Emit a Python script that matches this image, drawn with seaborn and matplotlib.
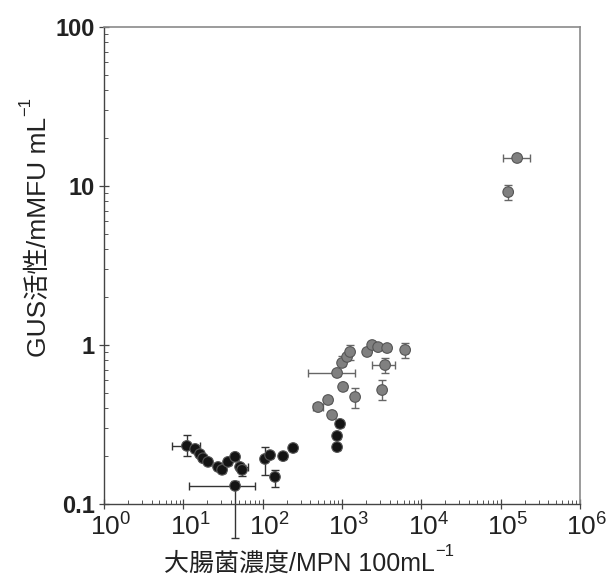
import numpy as np
import pandas as pd
import matplotlib
matplotlib.use("Agg")
import matplotlib.pyplot as plt
import matplotlib.transforms as mtransforms
import seaborn as sns
from matplotlib.ticker import LogLocator, FixedLocator, FixedFormatter, NullFormatter

sns.set_theme(style="white")
plt.rcParams["font.family"] = ["Liberation Sans", "Noto Sans CJK JP", "DejaVu Sans"]
plt.rcParams["mathtext.fontset"] = "custom"
plt.rcParams["mathtext.rm"] = "Liberation Sans"
plt.rcParams["mathtext.it"] = "Liberation Sans:italic"

# E. coli concentration (MPN / 100 mL) and GUS activity (mMFU / mL)
coli_black = [11.1, 14.1, 16.2, 17.7, 20.5, 27.4, 30.8, 36.6, 44.9, 51.9, 55.0,
              44.9, 107, 124, 143, 181, 242, 867, 867, 946]
gus_black = [0.232, 0.222, 0.206, 0.194, 0.184, 0.171, 0.164, 0.184, 0.198, 0.171, 0.164,
             0.130, 0.192, 0.203, 0.148, 0.200, 0.225, 0.228, 0.268, 0.319]
coli_black_lo = [7.2, 13.0, 15.2, 16.8, 19.5, 26.0, 29.5, 35.0, 43.0, 49.5, 52.0,
                 11.8, 101, 118, 137, 173, 232, 840, 840, 915]
coli_black_hi = [16.0, 15.2, 17.2, 18.8, 21.5, 28.8, 32.2, 38.2, 46.8, 65.0, 58.0,
                 80.0, 113, 130, 149, 189, 252, 894, 894, 977]
gus_black_lo = [0.200, 0.212, 0.198, 0.186, 0.177, 0.164, 0.157, 0.176, 0.190, 0.164, 0.150,
                0.061, 0.152, 0.194, 0.128, 0.192, 0.216, 0.218, 0.257, 0.306]
gus_black_hi = [0.270, 0.232, 0.215, 0.202, 0.192, 0.179, 0.172, 0.192, 0.207, 0.179, 0.176,
                0.140, 0.228, 0.212, 0.164, 0.208, 0.234, 0.238, 0.279, 0.332]

coli_gray = [500, 668, 750, 1032, 1463, 867, 1002, 1159, 1265, 2074, 2399, 2853,
             3706, 3494, 3206, 6253, 161400, 124400]
gus_gray = [0.407, 0.451, 0.363, 0.545, 0.471, 0.667, 0.771, 0.841, 0.904, 0.904, 1.00,
            0.970, 0.957, 0.748, 0.521, 0.931, 15.0, 9.16]
coli_gray_lo = [432, 640, 720, 990, 1400, 373, 960, 1110, 1210, 1990, 2300, 2740,
                3560, 2400, 3080, 5700, 107000, 118000]
coli_gray_hi = [578, 697, 782, 1075, 1525, 1463, 1045, 1210, 1320, 2160, 2500, 2970,
                3860, 4677, 3340, 6850, 235000, 131000]
gus_gray_lo = [0.390, 0.432, 0.348, 0.522, 0.402, 0.640, 0.740, 0.806, 0.810, 0.867, 0.958,
               0.930, 0.917, 0.670, 0.450, 0.830, 14.3, 8.17]
gus_gray_hi = [0.425, 0.471, 0.379, 0.569, 0.537, 0.696, 0.850, 0.878, 1.00, 0.944, 1.045,
               1.012, 1.000, 0.830, 0.600, 1.030, 15.7, 10.1]

black_col = "#141414"
gray_col = "#808080"

df = pd.DataFrame({
    "coli": coli_black + coli_gray,
    "gus": gus_black + gus_gray,
    "grp": ["black"] * len(coli_black) + ["gray"] * len(coli_gray),
})

W, H = 611, 588
fig = plt.figure(figsize=(W / 100, H / 100), dpi=100)
ax = fig.add_axes([104 / W, 1 - 504 / H, 476 / W, 477 / H])
ax.set_xscale("log")
ax.set_yscale("log")

def draw_errors(xs, ys, xlo, xhi, ylo, yhi, color):
    xs = np.array(xs); ys = np.array(ys)
    xerr = [xs - np.array(xlo), np.array(xhi) - xs]
    yerr = [ys - np.array(ylo), np.array(yhi) - ys]
    ax.errorbar(xs, ys, xerr=xerr, yerr=yerr, fmt="none", ecolor=color,
                elinewidth=1.0, capsize=3, capthick=1.0, clip_on=False, zorder=2)

draw_errors(coli_black, gus_black, coli_black_lo, coli_black_hi, gus_black_lo, gus_black_hi, "#333333")
draw_errors(coli_gray, gus_gray, coli_gray_lo, coli_gray_hi, gus_gray_lo, gus_gray_hi, "#666666")

sns.scatterplot(data=df, x="coli", y="gus", hue="grp",
                palette={"black": black_col, "gray": gray_col},
                s=58, edgecolor="#555555", linewidth=0.8, legend=False, ax=ax, zorder=3)

ax.set_xlim(1, 1e6)
ax.set_ylim(0.1, 100)

ax.xaxis.set_major_locator(FixedLocator([1e0, 1e1, 1e2, 1e3, 1e4, 1e5, 1e6]))
ax.xaxis.set_major_formatter(FixedFormatter(["$10^{%d}$" % k for k in range(7)]))
ax.xaxis.set_minor_locator(LogLocator(base=10, subs=np.arange(2, 10), numticks=20))
ax.xaxis.set_minor_formatter(NullFormatter())
ax.yaxis.set_major_locator(FixedLocator([0.1, 1, 10, 100]))
ax.yaxis.set_major_formatter(FixedFormatter(["0.1", "1", "10", "100"]))
ax.yaxis.set_minor_locator(LogLocator(base=10, subs=np.arange(2, 10), numticks=20))
ax.yaxis.set_minor_formatter(NullFormatter())

ax.tick_params(axis="both", which="major", direction="inout", length=7, width=0.9,
               color="#444444", labelcolor="#222222", pad=3)
ax.tick_params(axis="x", which="major", labelsize=19)
ax.tick_params(axis="y", which="major", labelsize=17)
ax.tick_params(axis="both", which="minor", direction="in", length=3, width=0.7,
               color="#555555")
ax.tick_params(axis="both", which="both", bottom=True, left=True, top=False, right=False)
for lab in ax.get_yticklabels():
    lab.set_fontweight("bold")
# centre the "10" of each power label on its tick, exponent hanging to the right
shift = mtransforms.ScaledTranslation(5 / 72, 0, fig.dpi_scale_trans)
for tick in ax.xaxis.get_major_ticks():
    tick.label1.set_transform(tick.label1.get_transform() + shift)

for side in ["left", "bottom"]:
    ax.spines[side].set_color("#444444")
    ax.spines[side].set_linewidth(1.0)
for side in ["top", "right"]:
    ax.spines[side].set_color("#8a8a8a")
    ax.spines[side].set_linewidth(1.2)

# Axis titles; the unit exponent is added as a separate raised text
ax.set_xlabel("大腸菌濃度/MPN 100mL", fontsize=18, color="#222222")
ax.set_ylabel("GUS活性/mMFU mL", fontsize=19, color="#222222")
ax.xaxis.set_label_coords(0.41, -0.100)
ax.yaxis.set_label_coords(-0.112, 0.56)

fig.canvas.draw()
rend = fig.canvas.get_renderer()
bx = ax.xaxis.label.get_window_extent(rend)
fig.text((bx.x1 + 1) / W, (bx.y1 + 8) / H, "\u22121", fontsize=12, color="#222222",
         ha="left", va="top")
by = ax.yaxis.label.get_window_extent(rend)
fig.text((by.x0 - 8) / W, (by.y1 + 1) / H, "\u22121", fontsize=12, color="#222222",
         rotation=90, ha="left", va="bottom")

fig.savefig("out.png", dpi=100, facecolor="white")
